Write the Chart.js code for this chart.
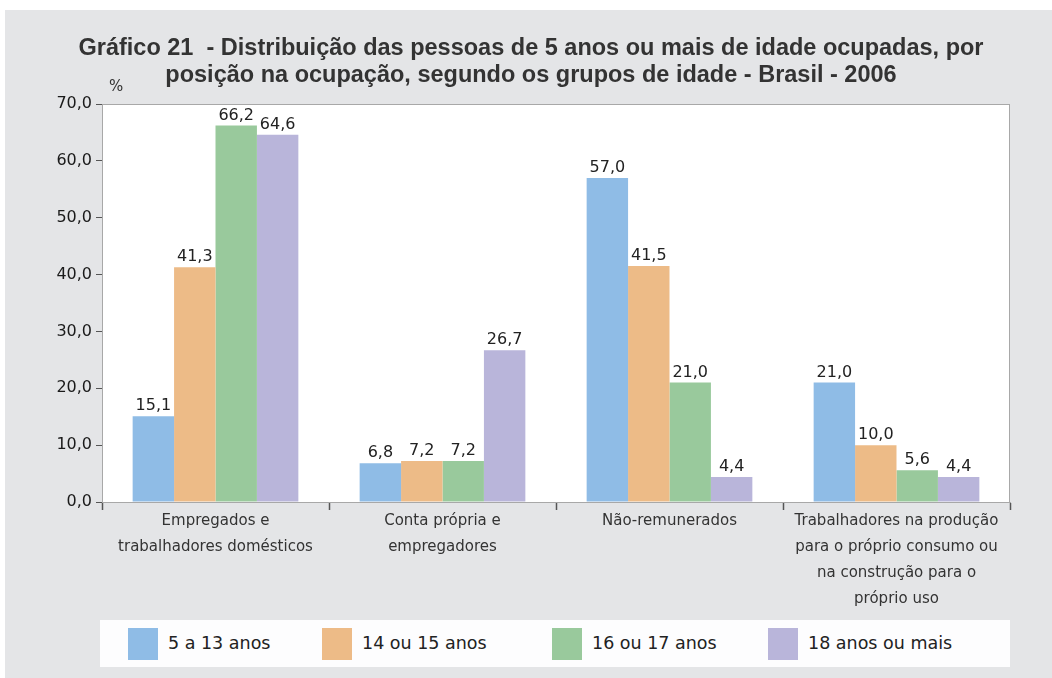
<!DOCTYPE html>
<html>
<head>
<meta charset="utf-8">
<script src="https://cdn.jsdelivr.net/npm/chart.js@4.4.1/dist/chart.umd.min.js"></script>
<style>
  html, body { margin: 0; padding: 0; background: #ffffff; }
  #wrap { position: absolute; left: 5px; top: 10px; width: 1047px; height: 668px; background: #e4e5e7; }
  #c { position: absolute; left: 0; top: 0; }
  .title { position: absolute; left: 0; width: 1062px; text-align: center; font-family: "Liberation Sans", Arial, sans-serif; font-weight: bold; font-size: 23.5px; line-height: 27px; color: #333; white-space: nowrap; }
  #pct { position: absolute; left: 109px; top: 77px; font-family: "DejaVu Sans", sans-serif; font-size: 15px; color: #333; }
  #legend { position: absolute; left: 100px; top: 620px; width: 910px; height: 47px; background: #fdfdfe; font-family: "DejaVu Sans", sans-serif; font-size: 17.5px; color: #222; }
  .li { position: absolute; top: 8px; height: 32px; }
  .sw { position: absolute; left: 0; top: 0; width: 30px; height: 32px; }
  .lt { position: absolute; left: 40px; top: 5px; white-space: nowrap; }
</style>
</head>
<body>
<div id="wrap"></div>
<canvas id="c" width="1052" height="678"></canvas>
<div class="title" style="top:34px">Gráfico 21&nbsp; - Distribuição das pessoas de 5 anos ou mais de idade ocupadas, por</div>
<div class="title" style="top:61px">posição na ocupação, segundo os grupos de idade - Brasil - 2006</div>
<div id="pct">%</div>
<div id="legend"></div>
<script>
const categories = [
  ["Empregados e", "trabalhadores domésticos"],
  ["Conta própria e", "empregadores"],
  ["Não-remunerados"],
  ["Trabalhadores na produção", "para o próprio consumo ou", "na construção para o", "próprio uso"]
];
const seriesNames = ["5 a 13 anos", "14 ou 15 anos", "16 ou 17 anos", "18 anos ou mais"];
const age5to13 = [15.1, 6.8, 57.0, 21.0];
const age14to15 = [41.3, 7.2, 41.5, 10.0];
const age16to17 = [66.2, 7.2, 21.0, 5.6];
const age18plus = [64.6, 26.7, 4.4, 4.4];
const yTicks = [0, 10, 20, 30, 40, 50, 60, 70];
const colors = ["#8fbce6", "#edbb87", "#99c99c", "#b9b5da"];

const seriesValues = [age5to13, age14to15, age16to17, age18plus];
const fmt = v => v.toFixed(1).replace(".", ",");
const FONT = "'DejaVu Sans', sans-serif";

// legend
const legendX = [28, 222, 452, 668];
const legend = document.getElementById("legend");
seriesNames.forEach((n, i) => {
  const d = document.createElement("div");
  d.className = "li";
  d.style.left = legendX[i] + "px";
  d.innerHTML = '<div class="sw" style="background:' + colors[i] + '"></div><div class="lt">' + n + '</div>';
  legend.appendChild(d);
});

const frame = {
  id: "frame",
  beforeDraw(chart) {
    const { ctx, chartArea: a } = chart;
    ctx.save();
    ctx.fillStyle = "#ffffff";
    ctx.fillRect(a.left, a.top, a.right - a.left, a.bottom - a.top);
    ctx.restore();
  },
  afterDraw(chart) {
    const { ctx, chartArea: a } = chart;
    ctx.save();
    ctx.strokeStyle = "#a8a8a8";
    ctx.lineWidth = 1;
    ctx.strokeRect(a.left + 0.5, a.top + 0.5, a.right - a.left - 1, a.bottom - a.top);
    ctx.restore();
  },
  afterDatasetsDraw(chart) {
    const { ctx } = chart;
    ctx.save();
    ctx.font = "16px " + FONT;
    ctx.fillStyle = "#222";
    ctx.textAlign = "center";
    ctx.textBaseline = "bottom";
    chart.data.datasets.forEach((ds, di) => {
      chart.getDatasetMeta(di).data.forEach((bar, i) => {
        ctx.fillText(fmt(ds.data[i]), bar.x, bar.y - 2);
      });
    });
    ctx.restore();
  }
};

new Chart(document.getElementById("c"), {
  type: "bar",
  data: {
    labels: categories,
    datasets: seriesNames.map((n, i) => ({
      label: n,
      data: seriesValues[i],
      backgroundColor: colors[i],
      borderWidth: 0,
      categoryPercentage: 0.73,
      barPercentage: 1.0
    }))
  },
  options: {
    responsive: false,
    animation: false,
    events: [],
    layout: { padding: { left: 0, top: 104, right: 42, bottom: 66 } },
    plugins: { legend: { display: false }, title: { display: false }, tooltip: { enabled: false } },
    scales: {
      x: {
        grid: { display: true, drawOnChartArea: false, offset: true, tickLength: 8, color: "#555", tickWidth: 1.5 },
        border: { color: "#a8a8a8" },
        ticks: { color: "#333", font: { family: FONT, size: 15, lineHeight: "26px" }, padding: -2, maxRotation: 0, autoSkip: false },
        afterFit(s) { s.height = 110; }
      },
      y: {
        min: 0, max: 70,
        afterBuildTicks(s) { s.ticks = yTicks.map(v => ({ value: v })); },
        grid: { display: true, drawOnChartArea: false, tickLength: 6, color: "#555" },
        border: { color: "#a8a8a8" },
        ticks: { color: "#1a1a1a", font: { family: FONT, size: 16 }, padding: 4, callback: v => fmt(v) },
        afterFit(s) { s.width = 102; }
      }
    }
  },
  plugins: [frame]
});
</script>
</body>
</html>
